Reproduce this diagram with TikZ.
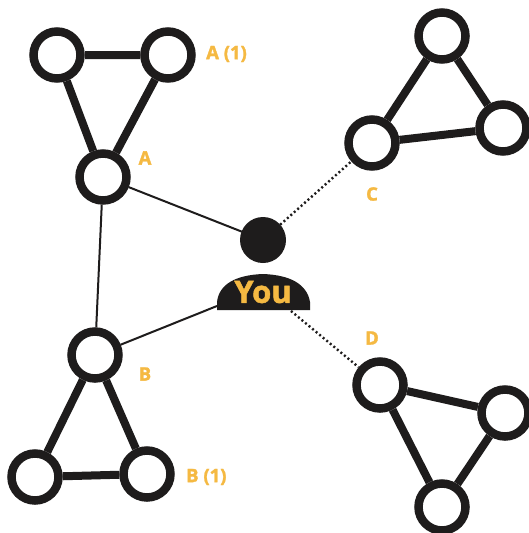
\documentclass[tikz,border=0pt]{standalone}
\usepackage{fontspec}
\setmainfont{Open Sans}[BoldFeatures={FakeBold=1.6}]
\definecolor{lbl}{RGB}{245,185,66}
\definecolor{ink}{RGB}{30,28,28}
\tikzset{
  ring/.style={circle,draw=ink,line width=8.5pt,fill=white,minimum size=47pt,inner sep=0pt},
  tie/.style={draw=ink,line width=8pt},
  thin/.style={draw=ink,line width=2pt},
  dots/.style={draw=ink,line width=2.4pt,dash pattern=on 2pt off 2.6pt},
  lab/.style={text=lbl,font=\bfseries\fontsize{18.5}{18.5}\selectfont,inner sep=0pt}
}
\begin{document}
\begin{tikzpicture}[x=1pt,y=-1pt]
\useasboundingbox[fill=white] (0,0) rectangle (529,533);
% You figure
\coordinate (head) at (263,240);
\fill[ink] (217,310) -- (217,302) .. controls (219,284) and (236,275) .. (263,274)
   .. controls (290,275) and (307,284) .. (310,302) -- (310,310) -- cycle;
\coordinate (bodyL) at (217,306);
\coordinate (bodyR) at (291,311);
\node[text=lbl,font=\bfseries\fontsize{31}{31}\selectfont,inner sep=0pt] (you) at (263,292) {You};
% group A
\node[ring] (a1) at (57,55) {};
\node[ring] (a2) at (168,55) {};
\node[ring] (a) at (103,177) {};
% group B
\node[ring] (b) at (95,355) {};
\node[ring] (b1) at (35,477) {};
\node[ring] (b2) at (147,474) {};
% group C
\node[ring] (c) at (372,143) {};
\node[ring] (c1) at (442,36) {};
\node[ring] (c2) at (503,128) {};
% group D
\node[ring] (d) at (380,385) {};
\node[ring] (d1) at (505,413) {};
\node[ring] (d2) at (442,507) {};
% triangle edges
\path[tie] (a1) -- (a2) (a1) -- (a) (a2) -- (a);
\path[tie] (b) -- (b1) (b) -- (b2) (b1) -- (b2);
\path[tie] (c) -- (c1) (c1) -- (c2) (c) -- (c2);
\path[tie] (d) -- (d1) (d1) -- (d2) (d) -- (d2);
% connectors
\path[thin] (a) -- (b);
\path[thin] (a) -- (head);
\path[thin] (b) -- (bodyL);
\path[dots] (head) -- (c);
\path[dots] (bodyR) -- (d);
% head drawn over lines
\fill[ink] (head) circle (23);
% labels
\node[lab,anchor=west] (la1) at (206,54) {A (1)};
\node[lab] (la) at (145,158) {A};
\node[lab] (lb) at (145,374) {B};
\node[lab,anchor=west] (lb1) at (186,477) {B (1)};
\node[lab] (lc) at (372,194) {C};
\node[lab] (ld) at (372,338) {D};
\end{tikzpicture}
\end{document}
